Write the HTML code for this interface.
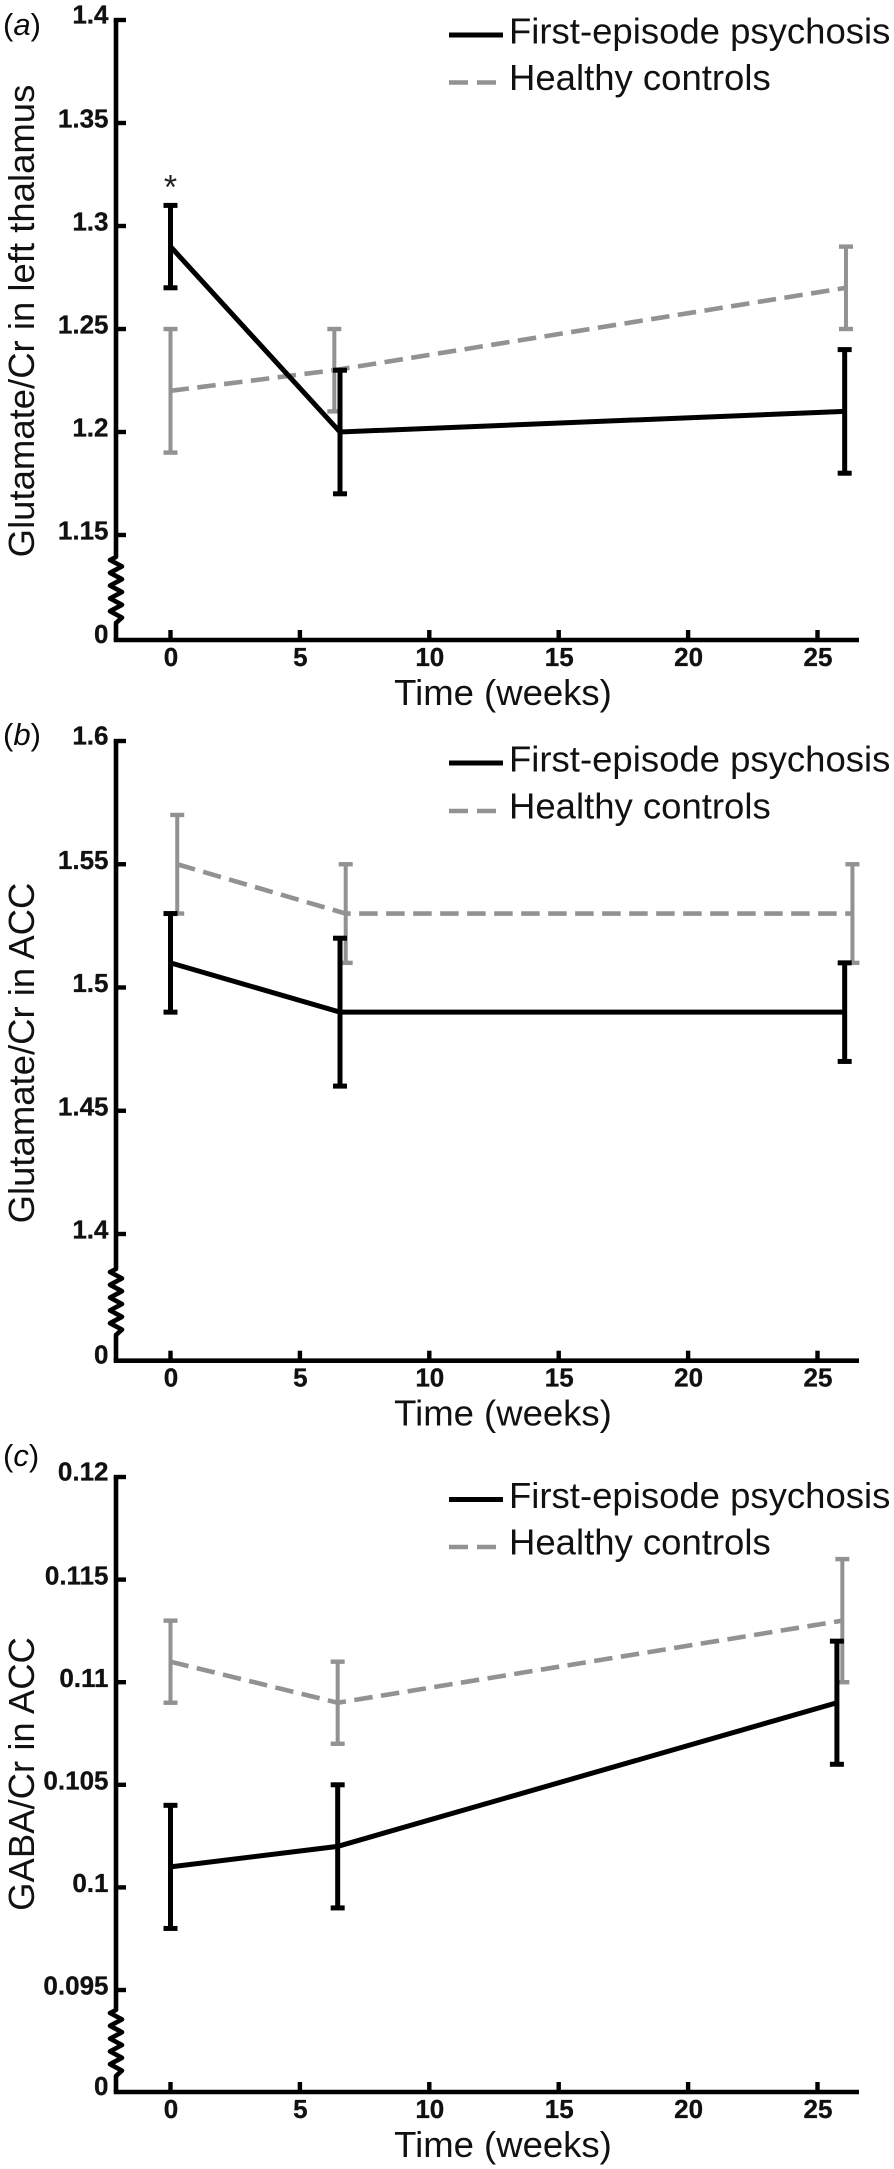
<!DOCTYPE html>
<html lang="en">
<head>
<meta charset="utf-8">
<title>Metabolite ratios over time</title>
<style>
html,body{margin:0;padding:0;background:#fff;width:894px;height:2169px;overflow:hidden}
svg{display:block}
text{font-family:"Liberation Sans",Arial,sans-serif;fill:#0a0a0a}
.tick{font-size:26px;font-weight:bold;fill:#111;stroke:#111;stroke-width:0.3px}
.title{font-size:36.5px;fill:#111}
</style>
</head>
<body>
<svg id="chart" xmlns="http://www.w3.org/2000/svg" width="894" height="2169" viewBox="0 0 894 2169"></svg>
<script>
// Panel (a) data
const yTickLabelsA = ['1.4','1.35','1.3','1.25','1.2','1.15'];
const weeksFepA = [0, 6.55, 26.05];
const fepA = [1.29, 1.2, 1.21];
const fepUpperA = [1.31, 1.23, 1.24];
const fepLowerA = [1.27, 1.17, 1.18];
const weeksHcA = [0, 6.33, 26.1];
const hcA = [1.22, 1.23, 1.27];
const hcUpperA = [1.25, 1.25, 1.29];
const hcLowerA = [1.19, 1.21, 1.25];

// Panel (b) data
const yTickLabelsB = ['1.6','1.55','1.5','1.45','1.4'];
const weeksFepB = [0, 6.55, 26.05];
const fepB = [1.51, 1.49, 1.49];
const fepUpperB = [1.53, 1.52, 1.51];
const fepLowerB = [1.49, 1.46, 1.47];
const weeksHcB = [0.26, 6.77, 26.35];
const hcB = [1.55, 1.53, 1.53];
const hcUpperB = [1.57, 1.55, 1.55];
const hcLowerB = [1.53, 1.51, 1.51];

// Panel (c) data
const yTickLabelsC = ['0.12','0.115','0.11','0.105','0.1','0.095'];
const weeksFepC = [0, 6.46, 25.75];
const fepC = [0.101, 0.102, 0.109];
const fepUpperC = [0.104, 0.105, 0.112];
const fepLowerC = [0.098, 0.099, 0.106];
const weeksHcC = [0, 6.46, 25.96];
const hcC = [0.111, 0.109, 0.113];
const hcUpperC = [0.113, 0.111, 0.116];
const hcLowerC = [0.109, 0.107, 0.11];

// Shared axis data
const xTickLabels = ['0','5','10','15','20','25'];
const legendLabels = ['First-episode psychosis','Healthy controls'];

const svg = document.getElementById('chart');
const NS = 'http://www.w3.org/2000/svg';
const BLACK = '#000';
const GREY = '#929292';
const AXIS_X = 116;
const xScale = t => 170.5 + t * 25.88;

function make(tag, parent, attrs, text) {
  const el = document.createElementNS(NS, tag);
  for (const k in attrs) el.setAttribute(k, attrs[k]);
  if (text !== undefined) el.textContent = text;
  parent.appendChild(el);
  return el;
}

function seg(parent, x1, y1, x2, y2, color, w) {
  return make('line', parent, {x1: x1, y1: y1, x2: x2, y2: y2, stroke: color, 'stroke-width': w});
}

function drawSeries(g, weeks, vals, up, low, yScale, color, dashed, key) {
  const stem = dashed ? 4 : 5;
  const capH = dashed ? 4.4 : 5;
  weeks.forEach((w, i) => {
    const x = xScale(w);
    const bar = make('g', g, {});
    
    
    seg(bar, x, yScale(up[i]), x, yScale(low[i]), color, stem);
    seg(bar, x - 7, yScale(up[i]), x + 7, yScale(up[i]), color, capH);
    seg(bar, x - 7, yScale(low[i]), x + 7, yScale(low[i]), color, capH);
  });
  const pts = weeks.map((w, i) => xScale(w) + ',' + yScale(vals[i])).join(' ');
  const line = make('polyline', g, {points: pts, fill: 'none', stroke: color, 'stroke-width': dashed ? 4.6 : 5});
  if (dashed) line.setAttribute('stroke-dasharray', '18.5 8.5');
  
  
}

function drawPanel(p) {
  const g = make('g', svg, {});
  
  
  const topVal = parseFloat(p.yTicks[0]);
  const lowVal = parseFloat(p.yTicks[p.yTicks.length - 1]);
  const yScale = v => p.top + (topVal - v) * (p.low - p.top) / (topVal - lowVal);

  // panel letter
  const letter = make('text', g, {x: 3, y: p.labelY, style: 'font-size:31px'});
  
  
  letter.appendChild(document.createTextNode('('));
  make('tspan', letter, {'font-style': 'italic'}, p.id);
  letter.appendChild(document.createTextNode(')'));

  // y axis
  const yAxis = make('g', g, {});
  
  
  let d = 'M' + AXIS_X + ' ' + p.top + ' L' + AXIS_X + ' ' + p.wiggle;
  for (let k = 0; k < 10; k++) {
    d += ' L' + (k % 2 ? 122 : 110) + ' ' + (p.wiggle + 3 + k * 6.4);
  }
  d += ' L' + AXIS_X + ' ' + (p.wiggle + 66) + ' L' + AXIS_X + ' ' + p.zero;
  make('path', yAxis, {d: d, fill: 'none', stroke: BLACK, 'stroke-width': 4.6, 'stroke-linejoin': 'round'});
  p.yTicks.forEach((label, i) => {
    const y = yScale(parseFloat(label));
    seg(yAxis, i === 0 ? 113.7 : AXIS_X, y, 126, y, BLACK, 4.4);
    const t = make('text', yAxis, {class: 'tick', x: 108.5, y: y + (i === 0 ? 3.6 : 4.7), 'text-anchor': 'end'}, label);
    
    
  });
  const zeroLabel = make('text', yAxis, {class: 'tick', x: 108.5, y: p.zero + 3, 'text-anchor': 'end'}, '0');
  
  

  const yTitle = make('text', g, {class: 'title', transform: 'translate(34 ' + p.titleY + ') rotate(-90)', 'text-anchor': 'middle'}, p.yTitle);
  
  

  // x axis
  const xAxis = make('g', g, {});
  
  
  seg(xAxis, 113.7, p.zero, 859, p.zero, BLACK, 4.6);
  xTickLabels.forEach(label => {
    const x = xScale(parseFloat(label));
    seg(xAxis, x, p.zero - 10, x, p.zero, BLACK, 4.4);
    const t = make('text', xAxis, {class: 'tick', x: x + 0.5, y: p.zero + 26, 'text-anchor': 'middle'}, label);
    
    
  });
  const xTitle = make('text', g, {class: 'title', x: 503, y: p.zero + 65, 'text-anchor': 'middle'}, 'Time (weeks)');
  
  

  // series
  drawSeries(g, p.weeksHc, p.hc, p.hcUp, p.hcLow, yScale, GREY, true, 'healthy-controls');
  drawSeries(g, p.weeksFep, p.fep, p.fepUp, p.fepLow, yScale, BLACK, false, 'first-episode-psychosis');

  if (p.star) {
    const s = make('text', g, {x: xScale(0), y: 198.6, 'text-anchor': 'middle', style: 'font-size:34px;fill:#222'}, '*');
    
    
  }

  // legend
  const leg = make('g', g, {});
  
  
  const e1 = make('g', leg, {});
  
  
  seg(e1, 449, p.legend1, 503, p.legend1, BLACK, 5);
  make('text', e1, {class: 'title', x: 509, y: p.legend1 + 8.5}, legendLabels[0]);
  const e2 = make('g', leg, {});
  
  
  const dash = seg(e2, 449, p.legend2, 496, p.legend2, GREY, 4.6);
  dash.setAttribute('stroke-dasharray', '19 9');
  make('text', e2, {class: 'title', x: 509, y: p.legend2 + 7.5}, legendLabels[1]);
}

drawPanel({id: 'a', top: 20, low: 535, zero: 640, wiggle: 557, titleY: 321, legend1: 35, legend2: 82.5, labelY: 35, star: true,
  yTitle: 'Glutamate/Cr in left thalamus', yTicks: yTickLabelsA,
  weeksFep: weeksFepA, fep: fepA, fepUp: fepUpperA, fepLow: fepLowerA,
  weeksHc: weeksHcA, hc: hcA, hcUp: hcUpperA, hcLow: hcLowerA});
drawPanel({id: 'b', top: 741, low: 1234, zero: 1360.7, wiggle: 1269, titleY: 1053, legend1: 763, legend2: 811, labelY: 745, star: false,
  yTitle: 'Glutamate/Cr in ACC', yTicks: yTickLabelsB,
  weeksFep: weeksFepB, fep: fepB, fepUp: fepUpperB, fepLow: fepLowerB,
  weeksHc: weeksHcB, hc: hcB, hcUp: hcUpperB, hcLow: hcLowerB});
drawPanel({id: 'c', top: 1477, low: 1990, zero: 2092, wiggle: 2010, titleY: 1774, legend1: 1499.5, legend2: 1547, labelY: 1466, star: false,
  yTitle: 'GABA/Cr in ACC', yTicks: yTickLabelsC,
  weeksFep: weeksFepC, fep: fepC, fepUp: fepUpperC, fepLow: fepLowerC,
  weeksHc: weeksHcC, hc: hcC, hcUp: hcUpperC, hcLow: hcLowerC});
</script>
</body>
</html>
